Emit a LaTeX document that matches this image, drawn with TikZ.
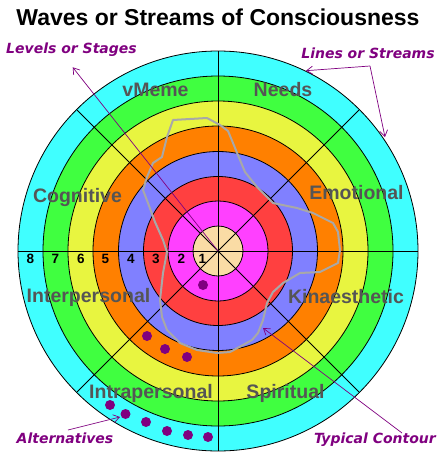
\documentclass[tikz,border=0pt]{standalone}
\usepackage{fontspec}
\setmainfont{Liberation Sans}
\newfontfamily\obliquefont{DejaVu Sans}
\usetikzlibrary{arrows.meta}
\definecolor{ccyan}{HTML}{40FFFF}
\definecolor{cgreen}{HTML}{40FF40}
\definecolor{cyellow}{HTML}{E8F540}
\definecolor{corange}{HTML}{FF8000}
\definecolor{cblue}{HTML}{8080FF}
\definecolor{cred}{HTML}{FF4040}
\definecolor{cmag}{HTML}{FF40FF}
\definecolor{cpeach}{HTML}{FADCA5}
\definecolor{lblgray}{HTML}{555555}
\definecolor{cpurple}{HTML}{800080}
\definecolor{ccont}{HTML}{A8A8A8}
\tikzset{
  ring/.style={draw=black, line width=0.8pt},
  spoke/.style={draw=black, line width=0.8pt},
  glabel/.style={text=lblgray, font=\bfseries\fontsize{19.5}{22}\selectfont, inner sep=0pt},
  plabel/.style={text=cpurple, font=\obliquefont\bfseries\itshape\fontsize{14}{17}\selectfont, inner sep=0pt},
  numlabel/.style={text=black, font=\bfseries\fontsize{13.5}{15}\selectfont, inner sep=0pt},
  parrow/.style={draw=cpurple, line width=0.7pt, -{Straight Barb[length=6pt,width=8pt]}},
  contour/.style={draw=ccont, line width=2pt, line join=round},
  altdot/.style={fill=cpurple},
}
\begin{document}
\begin{tikzpicture}[x=1pt,y=-1pt]
\useasboundingbox[fill=white] (0,0) rectangle (438,460);
\coordinate (C) at (218,251);
% rings
\foreach \r/\c in {200/ccyan,175/cgreen,150/cyellow,125/corange,99.5/cblue,74.5/cred,50/cmag,25/cpeach}{
  \fill[\c] (C) circle (\r pt);
  \draw[ring] (C) circle (\r pt);
}
% spokes
\draw[spoke] (C) ++(-200pt,0) -- ++(400pt,0);
\draw[spoke] (C) ++(0,-200pt) -- ++(0,400pt);
\draw[spoke] (C) ++(45:200pt) -- ++(225:400pt);
\draw[spoke] (C) ++(135:200pt) -- ++(315:400pt);
% ring numbers
\foreach \x/\n in {30.5/8,55.5/7,81/6,105.5/5,131/4,156/3,181.5/2,202.5/1}{
  \node[numlabel, anchor=north] (n\n) at (\x,254) {\n};
}
% typical contour
\draw[contour] (173,120) -- (207,118) -- (220,125) -- (228,131) -- (233,143) -- (240,160) -- (245,172) -- (257,187) -- (273,203) -- (297,208) -- (313,213) -- (333,223) -- (338,232) -- (340,250) -- (338,263) -- (320,272) -- (300,273) -- (283,283) -- (273,292) -- (267,303) -- (263,320) -- (258,333) -- (252,340) -- (243,345) -- (230,352) -- (217,353) -- (197,350) -- (180,343) -- (167,330) -- (162,317) -- (160,300) -- (163,273) -- (167,252) -- (163,240) -- (155,222) -- (148,203) -- (143,190) -- (147,177) -- (153,163) -- (162,157) -- (167,137) -- cycle;
% alternative dots
\foreach \x/\y in {203/285,147/336,165/349,187/357,110/405,125.5/414,146/422,167/431,188/435,208/437}{
  \fill[altdot] (\x,\y) circle (5pt);
}
% gray labels
\node[glabel] (vm) at (155.5,90) {vMeme};
\node[glabel] (nd) at (283,90) {Needs};
\node[glabel] (cg) at (77.5,197) {Cognitive};
\node[glabel] (em) at (356.5,193) {Emotional};
\node[glabel] (ip) at (88.5,297) {Interpersonal};
\node[glabel] (ki) at (346,297) {Kinaesthetic};
\node[glabel] (ia) at (151,393) {Intrapersonal};
\node[glabel] (sp) at (285.5,393) {Spiritual};
% title
\node[font=\bfseries\fontsize{23}{26}\selectfont, inner sep=0pt] (title) at (218,17) {Waves or Streams of Consciousness};
% purple labels and arrows
\node[plabel] (lev) at (71.5,50) {Levels or Stages};
\node[plabel] (lin) at (368,53) {Lines or Streams};
\node[plabel] (alt) at (65,438) {Alternatives};
\node[plabel] (typ) at (375,440) {Typical Contour};
\coordinate (levtip) at (72.7,67.3);
\coordinate (linA) at (306,70.7);
\coordinate (linB) at (370,66);
\coordinate (linC) at (385,137);
\coordinate (altS) at (68,430);
\coordinate (altT) at (120,417);
\coordinate (typS) at (402,433);
\coordinate (typT) at (263,328);
\draw[parrow] (C) -- (levtip);
\draw[parrow] (linB) -- (linA);
\draw[parrow] (linB) -- (linC);
\draw[parrow] (altS) -- (altT);
\draw[parrow] (typS) -- (typT);
\end{tikzpicture}
\end{document}
